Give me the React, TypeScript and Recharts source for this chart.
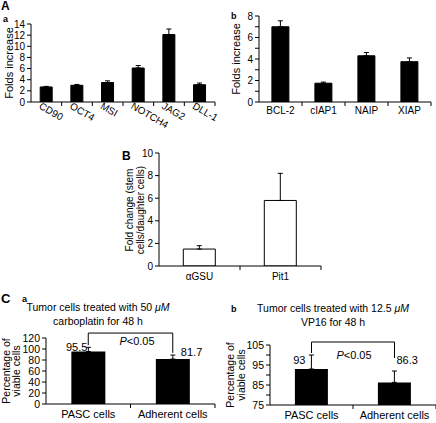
import React from "react";
import { BarChart, Bar, XAxis, YAxis, ErrorBar, ReferenceLine, LabelList } from "recharts";

// panel A a: stem cell marker expression
const markerGenes = ["CD90", "OCT4", "MSI", "NOTCH4", "JAG2", "DLL-1"];
const markerFold = [2.7, 3.0, 3.5, 6.1, 12.1, 3.1];
const markerErr = [0.1, 0.15, 0.3, 0.45, 1.0, 0.3];
const markerTicks = [0, 2, 4, 6, 8, 10, 12, 14];

// panel A b: anti-apoptotic genes
const apoGenes = ["BCL-2", "cIAP1", "NAIP", "XIAP"];
const apoFold = [7.0, 1.75, 4.3, 3.75];
const apoErr = [0.55, 0.1, 0.3, 0.35];
const apoTicks = [0, 1, 2, 3, 4, 5, 6, 7, 8];

// panel B: hormone genes
const hormones = ["αGSU", "Pit1"];
const hormoneFold = [1.5, 5.8];
const hormoneErr = [0.3, 2.4];
const hormoneTicks = [0, 2, 4, 6, 8, 10];

// panel C: viability after drug treatment
const cellTypes = ["PASC cells", "Adherent cells"];
const carboViable = [95.5, 81.7];
const carboErr = [7.5, 7.3];
const carboTicks = [0, 20, 40, 60, 80, 100, 120];
const vp16Viable = [93, 86.3];
const vp16Err = [7, 5.7];
const vp16Ticks = [75, 80, 85, 90, 95, 100, 105];

// significance brackets: [left foot, top, right foot]
const carboBracket = [107, 129, 93];
const vp16Bracket = [101, 106.5, 98.5];

const FONT = "Arial, 'Liberation Sans', sans-serif";

const rows = (cats: string[], vals: number[], errs: number[]) =>
  cats.map((name, i) => ({ name, value: vals[i], err: [0, errs[i]] }));

const CatTick = (props: any) => {
  const { x, y, payload, band, angle, fontSize, dy } = props;
  return (
    <g>
      <line x1={x + band / 2} y1={y} x2={x + band / 2} y2={y + 4} stroke="#000" />
      {angle ? (
        <text
          x={x - 8}
          y={y + dy}
          transform={`rotate(${angle} ${x - 8} ${y + dy})`}
          textAnchor="start"
          fontSize={fontSize}
          fontFamily={FONT}
          fill="#000"
        >
          {payload.value}
        </text>
      ) : (
        <text x={x} y={y + dy} textAnchor="middle" fontSize={fontSize} fontFamily={FONT} fill="#000">
          {payload.value}
        </text>
      )}
    </g>
  );
};

type PanelProps = {
  left: number;
  top: number;
  width: number;
  height: number;
  axisW: number;
  mTop: number;
  mRight: number;
  xH: number;
  data: any[];
  domain: [number, number];
  ticks: number[];
  showTick?: (v: number) => boolean;
  fontSize: number;
  xFont: number;
  xDy: number;
  angle?: number;
  white?: boolean;
};

function Panel(p: PanelProps) {
  const plotW = p.width - p.axisW - p.mRight;
  const band = plotW / p.data.length;
  return (
    <div style={{ position: "absolute", left: p.left, top: p.top }}>
      <BarChart
        width={p.width}
        height={p.height}
        data={p.data}
        margin={{ top: p.mTop, right: p.mRight, bottom: 0, left: 0 }}
        barCategoryGap="30%"
      >
        <XAxis
          dataKey="name"
          height={p.xH}
          axisLine={{ stroke: "#000" }}
          tickLine={false}
          tickSize={0}
          tickMargin={0}
          interval={0}
          tick={<CatTick band={band} angle={p.angle} fontSize={p.xFont} dy={p.xDy} />}
        />
        <YAxis
          width={p.axisW}
          domain={p.domain}
          ticks={p.ticks}
          interval={0}
          allowDataOverflow
          axisLine={{ stroke: "#000" }}
          tickLine={{ stroke: "#000" }}
          tickSize={4}
          tickMargin={2}
          tick={{ fill: "#000", fontSize: p.fontSize, fontFamily: FONT }}
          tickFormatter={(v: number) => (p.showTick && !p.showTick(v) ? "" : String(v))}
        />
        <Bar
          dataKey="value"
          fill={p.white ? "#fff" : "#000"}
          stroke="#000"
          strokeWidth={1}
          isAnimationActive={false}
        >
          <ErrorBar dataKey="err" width={2.5} stroke="#000" strokeWidth={1} direction="y" />
        </Bar>
      </BarChart>
    </div>
  );
}

const valueLabel = (offsets: { dx: number; dy: number; anchor: string }[]) => (props: any) => {
  const { x, y, width, value, index } = props;
  const o = offsets[index] || offsets[0];
  return (
    <text
      x={x + width / 2 + o.dx}
      y={y + o.dy}
      textAnchor={o.anchor}
      fontSize={11}
      fontFamily={FONT}
      fill="#000"
    >
      {value}
    </text>
  );
};

const bracket = (b: number[]) => {
  const [l, t, r] = b;
  const s = { stroke: "#000", strokeWidth: 1 };
  return [
    <ReferenceLine key="l" ifOverflow="visible" {...s} segment={[{ x: cellTypes[0], y: l }, { x: cellTypes[0], y: t }]} />,
    <ReferenceLine key="t" ifOverflow="visible" {...s} segment={[{ x: cellTypes[0], y: t }, { x: cellTypes[1], y: t }]} />,
    <ReferenceLine key="r" ifOverflow="visible" {...s} segment={[{ x: cellTypes[1], y: t }, { x: cellTypes[1], y: r }]} />,
  ];
};

function PanelC(p: any) {
  const plotW = p.width - p.axisW - p.mRight;
  const band = plotW / 2;
  return (
    <div style={{ position: "absolute", left: p.left, top: p.top }}>
      <BarChart
        width={p.width}
        height={p.height}
        data={p.data}
        margin={{ top: p.mTop, right: p.mRight, bottom: 0, left: 0 }}
        barCategoryGap="30%"
      >
        <XAxis
          dataKey="name"
          height={p.xH}
          axisLine={{ stroke: "#000" }}
          tickLine={false}
          tickSize={0}
          tickMargin={0}
          interval={0}
          tick={<CatTick band={band} fontSize={11} dy={14} />}
        />
        <YAxis
          width={p.axisW}
          domain={p.domain}
          ticks={p.ticks}
          interval={0}
          allowDataOverflow
          axisLine={{ stroke: "#000" }}
          tickLine={{ stroke: "#000" }}
          tickSize={4}
          tickMargin={2}
          tick={{ fill: "#000", fontSize: 10.5, fontFamily: FONT }}
          tickFormatter={(v: number) => (p.showTick && !p.showTick(v) ? "" : String(v))}
        />
        {bracket(p.bracket)}
        <Bar dataKey="value" fill="#000" isAnimationActive={false}>
          <ErrorBar dataKey="err" width={2.5} stroke="#000" strokeWidth={1} direction="y" />
          <LabelList dataKey="value" content={valueLabel(p.offsets)} />
        </Bar>
      </BarChart>
    </div>
  );
}

const T = (props: any) => {
  const { x, y, size = 10.5, bold, anchor = "start", rot, children } = props;
  return (
    <text
      x={rot ? 0 : x}
      y={rot ? 0 : y}
      transform={rot ? `translate(${x} ${y}) rotate(-90)` : undefined}
      textAnchor={rot ? "middle" : anchor}
      dominantBaseline={rot ? "central" : undefined}
      fontSize={size}
      fontWeight={bold ? "bold" : "normal"}
      fontFamily={FONT}
      fill="#000"
    >
      {children}
    </text>
  );
};

export default function App() {
  return (
    <div
      style={{
        position: "absolute",
        left: 0,
        top: 0,
        width: 436,
        height: 423,
        background: "#fff",
        overflow: "hidden",
      }}
    >
      <Panel
        left={0}
        top={0}
        width={220}
        height={140}
        axisW={31}
        mTop={24}
        mRight={5}
        xH={38}
        data={rows(markerGenes, markerFold, markerErr)}
        domain={[0, 14]}
        ticks={markerTicks}
        fontSize={10}
        xFont={10}
        xDy={6}
        angle={30}
      />
      <Panel
        left={220}
        top={0}
        width={216}
        height={140}
        axisW={39}
        mTop={16}
        mRight={5}
        xH={38}
        data={rows(apoGenes, apoFold, apoErr)}
        domain={[0, 8]}
        ticks={apoTicks}
        showTick={(v) => v % 2 === 0}
        fontSize={10}
        xFont={10}
        xDy={12}
      />
      <Panel
        left={100}
        top={140}
        width={230}
        height={145}
        axisW={59}
        mTop={13}
        mRight={9}
        xH={19}
        data={rows(hormones, hormoneFold, hormoneErr)}
        domain={[0, 10]}
        ticks={hormoneTicks}
        fontSize={10}
        xFont={10}
        xDy={14}
        white
      />
      <PanelC
        left={0}
        top={330}
        width={220}
        height={93}
        axisW={46}
        mTop={8}
        mRight={5}
        xH={19}
        data={rows(cellTypes, carboViable, carboErr)}
        domain={[0, 120]}
        ticks={carboTicks}
        bracket={carboBracket}
        offsets={[
          { dx: -1, dy: 0, anchor: "end" },
          { dx: 8, dy: -3, anchor: "start" },
        ]}
      />
      <PanelC
        left={220}
        top={335}
        width={216}
        height={88}
        axisW={50}
        mTop={10}
        mRight={0}
        xH={18}
        data={rows(cellTypes, vp16Viable, vp16Err)}
        domain={[75, 105]}
        ticks={vp16Ticks}
        showTick={(v: number) => (v - 75) % 10 === 0}
        bracket={vp16Bracket}
        offsets={[
          { dx: -6, dy: -5, anchor: "end" },
          { dx: 2, dy: -18, anchor: "start" },
        ]}
      />
      <svg
        width={436}
        height={423}
        style={{ position: "absolute", left: 0, top: 0, pointerEvents: "none" }}
      >
        <T x={1} y={10} size={12} bold>A</T>
        <T x={3} y={22} size={9} bold>a</T>
        <T x={9} y={63} size={11} rot>Folds increase</T>
        <T x={231} y={19} size={9} bold>b</T>
        <T x={236} y={59} size={11} rot>Folds increase</T>

        <T x={122} y={160} size={12} bold>B</T>
        <T x={129} y={210} size={10} rot>Fold change (stem</T>
        <T x={140} y={210} size={10} rot>cells/daughter cells)</T>

        <T x={1} y={303} size={13} bold>C</T>
        <T x={22} y={302} size={9} bold>a</T>
        <T x={98} y={311} anchor="middle">
          Tumor cells treated with 50 <tspan fontStyle="italic">μM</tspan>
        </T>
        <T x={98} y={325} anchor="middle">carboplatin for 48 h</T>
        <T x={6} y={371} size={10.5} rot>Percentage of</T>
        <T x={16} y={371} size={10.5} rot>viable cells</T>
        <T x={137} y={345} size={11} anchor="middle">
          <tspan fontStyle="italic">P</tspan>&lt;0.05
        </T>

        <T x={231} y={312} size={9} bold>b</T>
        <T x={333} y={312} anchor="middle">
          Tumor cells treated with 12.5 <tspan fontStyle="italic">μM</tspan>
        </T>
        <T x={333} y={326} anchor="middle">VP16 for 48 h</T>
        <T x={230} y={375} size={10.5} rot>Percentage of</T>
        <T x={241} y={375} size={10.5} rot>viable cells</T>
        <T x={354} y={359} size={11} anchor="middle">
          <tspan fontStyle="italic">P</tspan>&lt;0.05
        </T>
      </svg>
    </div>
  );
}
